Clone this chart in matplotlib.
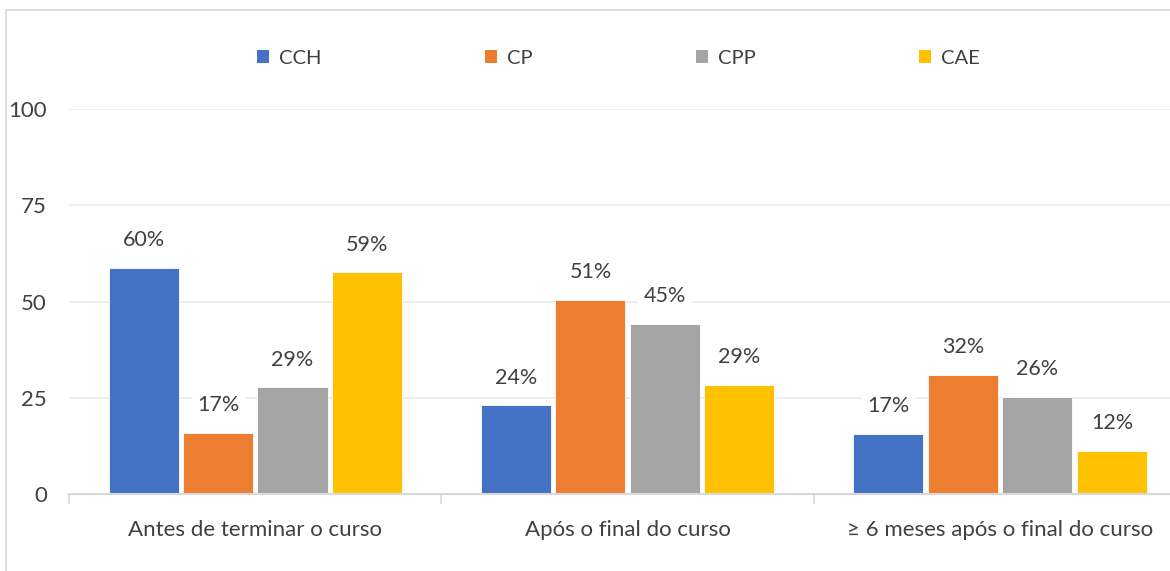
import numpy as np
import matplotlib.pyplot as plt
from matplotlib.patches import Patch, Rectangle

plt.rcParams['font.family'] = ['Lato', 'DejaVu Sans']

categories = ['Antes de terminar o curso', 'Após o final do curso', '≥ 6 meses após o final do curso']
series = ['CCH', 'CP', 'CPP', 'CAE']
colors = ['#4472C4', '#ED7D31', '#A5A5A5', '#FFC000']

cch = [58.7, 23.0, 15.6]
cp = [15.8, 50.4, 30.9]
cpp = [27.7, 44.2, 25.2]
cae = [57.6, 28.4, 11.2]

# rótulos como aparecem no gráfico
cch_lbl = ['60%', '24%', '17%']
cp_lbl = ['17%', '51%', '32%']
cpp_lbl = ['29%', '45%', '26%']
cae_lbl = ['59%', '29%', '12%']

values = [cch, cp, cpp, cae]
labels = [cch_lbl, cp_lbl, cpp_lbl, cae_lbl]

fig = plt.figure(figsize=(11.7, 5.71), dpi=100)
ax = fig.add_axes([0.059, 0.1349, 0.955, 0.674])

# moldura do gráfico (cortada à direita e em baixo)
fig.patches.append(Rectangle((6 / 1170, -0.05), 1.2, 1 - 10 / 571 + 0.05,
                             transform=fig.transFigure, fill=False,
                             edgecolor='#d9d9d9', linewidth=1.2))

x = np.arange(len(categories))
offsets = [-0.3, -0.1, 0.1, 0.3]
width = 0.188

for i in range(4):
    bars = ax.bar(x + offsets[i], values[i], width, color=colors[i],
                  edgecolor='white', linewidth=0.6, zorder=2)
    for b, lbl in zip(bars, labels[i]):
        ax.annotate(lbl, (b.get_x() + b.get_width() / 2, b.get_height()),
                    xytext=(0, 20), textcoords='offset points',
                    ha='center', va='center', fontsize=15.5, color='#404040',
                    bbox=dict(boxstyle='square,pad=0.25', fc='white', ec='none'),
                    zorder=3)

ax.set_xlim(-0.5, 2.5)
ax.set_ylim(0, 100)
ax.set_yticks([0, 25, 50, 75, 100])
ax.set_xticks(x)
ax.set_xticklabels(categories)
ax.set_xticks([-0.5, 0.5, 1.5, 2.5], minor=True)
ax.tick_params(axis='x', which='major', length=0, pad=19, labelsize=16, labelcolor='#404040')
ax.tick_params(axis='x', which='minor', length=7, width=1.2, color='#d9d9d9')
ax.tick_params(axis='y', length=0, pad=16, labelsize=16, labelcolor='#404040')

ax.grid(axis='y', color='#ebebeb', linewidth=1.2, zorder=0)
ax.set_axisbelow(True)
for s in ['top', 'right', 'left']:
    ax.spines[s].set_visible(False)
ax.spines['bottom'].set_color('#d9d9d9')
ax.spines['bottom'].set_linewidth(1.5)
ax.spines['bottom'].set_zorder(4)

handles = [Patch(facecolor=c, edgecolor='none') for c in colors]
fig.legend(handles, series, loc='center', bbox_to_anchor=(0.5285, 1 - 58 / 571),
           ncol=4, frameon=False, fontsize=14.5, labelcolor='#404040',
           handlelength=0.6, handleheight=0.6, handletextpad=0.5,
           columnspacing=8.1)

fig.savefig('out.png', dpi=100)
